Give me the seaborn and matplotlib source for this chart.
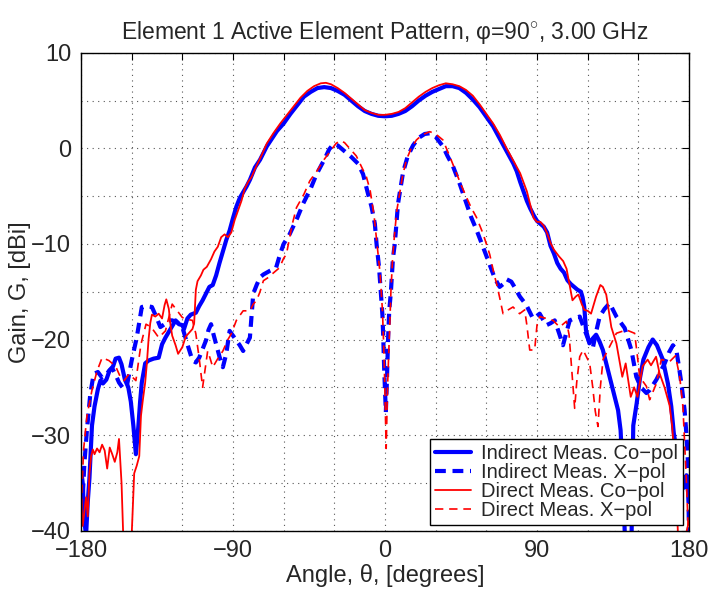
import numpy as np
import pandas as pd
import matplotlib
matplotlib.use("Agg")
import matplotlib.pyplot as plt
import seaborn as sns

# ---------------- data ----------------
ind_co_x = [-180, -179, -178, -177, -176, -175, -173.5, -172, -170, -168.5, -167, -165, -163, -161,
            -159.5, -157.5, -156, -154, -152, -150.5, -149, -147.5, -146, -145, -144, -142, -140,
            -137, -134, -132, -130, -128, -126, -124, -122, -120, -119, -117, -115, -112, -110,
            -108, -106, -104, -102, -100, -98, -96, -94, -92, -90, -88, -86, -84, -82, -80, -77,
            -74, -72, -70, -67, -64, -60, -56, -52, -48, -44, -40, -36, -32, -28, -24, -20, -16,
            -12, -8, -4, 0, 4, 8, 12, 16, 20, 24, 28, 32, 36, 40, 44, 48, 52, 56, 60, 64, 68, 72,
            76, 78, 80, 82, 84, 86, 88, 90, 92, 94, 96, 98, 100, 102, 104, 106, 108, 110, 112,
            114, 116, 117, 118, 119, 121, 123, 125, 127, 129, 132, 135, 138, 139.5, 141, 142,
            146, 147, 149, 151, 153, 156, 158.5, 161, 164.5, 167.5, 169.5, 171, 173, 175, 177,
            178.5, 180]
ind_co_y = [-33.5, -35, -39, -40.5, -37, -34.5, -29, -27, -25.2, -24.3, -24.6, -24.2, -23.2, -22.8,
            -22.0, -21.9, -22.6, -24.2, -25, -26.5, -29, -32.0, -29, -26.5, -24.5, -22.5, -22.2,
            -22.0, -21.9, -20.5, -19.8, -19.2, -18.6, -18.0, -18.4, -18.5, -18.9, -17.8, -17.4,
            -17.2, -16.5, -15.9, -15.2, -14.5, -14.3, -13.3, -12.0, -10.8, -9.6, -8.6, -7.3, -6.1,
            -5.2, -4.6, -4.0, -3.3, -2.0, -1.2, -0.5, 0.2, 1.0, 1.8, 2.6, 3.6, 4.5, 5.4, 5.9, 6.3,
            6.4, 6.3, 6.0, 5.6, 5.0, 4.4, 3.9, 3.6, 3.4, 3.35, 3.4, 3.6, 3.9, 4.4, 5.0, 5.5, 5.9,
            6.2, 6.5, 6.5, 6.3, 5.8, 5.1, 4.3, 3.3, 2.3, 1.0, -0.3, -1.6, -2.4, -3.5, -4.5, -5.5,
            -6.3, -7.0, -7.6, -7.9, -8.2, -8.8, -10.2, -11.0, -12.0, -12.6, -13.0, -13.8, -14.2,
            -14.5, -14.8, -15.0, -15.6, -16.6, -19.0, -20.4, -19.9, -19.5, -20.2, -21.1, -23.2,
            -25.3, -27.4, -29.5, -35, -40.5, -40.5, -29.0, -26.7, -24.0, -22.1, -20.8, -20.0,
            -20.6, -22.1, -24.6, -27.0, -29.8, -32, -35, -35.5, -34.2, -37]

ind_x_x = [-180, -179, -178, -176.5, -174.5, -172.5, -170, -167.5, -165.5, -163.5, -161.5, -159.5,
           -157.5, -155.5, -153, -150, -147, -144, -141, -138, -135.5, -133, -130.5, -128, -126,
           -123, -120, -117, -114, -112, -110, -108, -106, -104.5, -103, -101.5, -100, -98, -96,
           -94, -92, -90, -88, -86, -84, -82, -80, -79, -78, -76, -74, -72, -70, -68, -64.5, -62,
           -60, -56.5, -52, -48.5, -44, -40.5, -36, -33, -30.5, -28, -24, -20, -16, -13, -10, -8,
           -6, -5, -3.5, -2.5, -1.5, -1, -0.5, 0.5, 1.2, 1.8, 2.5, 3.5, 4.7, 5.8, 7.7, 10.7, 13.5,
           16.6, 20, 23.5, 26.5, 30, 34.3, 37, 40.3, 44.2, 48.2, 51, 54.1, 58, 62, 65, 67.9, 70,
           72, 74.8, 77, 79.8, 83.7, 87.6, 89.5, 91.6, 93.5, 95.6, 98, 100.5, 103, 105.4, 107.5,
           109.4, 112, 115.3, 118.2, 121, 123.2, 125, 127.1, 130, 133, 137, 141.9, 145.9, 148.8,
           151.5, 154.8, 156.7, 160.7, 163, 165.6, 168, 170.5, 172.5, 174, 175.5, 177.4, 178.5,
           179.4, 180]
ind_x_y = [-38, -36.5, -33, -29.5, -25.7, -23.6, -23.4, -24.0, -23.8, -23.3, -23.0, -23.7, -24.5,
           -25.0, -25.0, -22.2, -19.8, -16.6, -16.5, -16.6, -17.6, -18.7, -18.4, -18.0, -18.0,
           -18.2, -18.7, -20.5, -22.2, -22.4, -21.9, -21.0, -20.1, -19.0, -18.4, -19.5, -20.5,
           -21.8, -22.9, -21.5, -19.1, -19.6, -20.1, -20.6, -21.2, -20.5, -19.8, -17.5, -15.2,
           -14.3, -13.5, -13.2, -13.0, -12.8, -12.5, -11.0, -10.0, -9.0, -7.3, -5.8, -4.2, -2.7,
           -1.2, -0.1, 0.45, 0.3, -0.3, -0.9, -1.6, -2.7, -4.8, -6.1, -7.9, -10.0, -12.5, -15.0,
           -17.5, -20, -23, -27.6, -24, -20, -17, -15, -11.5, -10, -5.8, -2.5, -0.8, 0.3, 1.1,
           1.5, 1.57, 1.2, 0.2, -0.8, -1.9, -3.7, -5.75, -7.2, -8.5, -10.3, -12.2, -13.6, -14.5,
           -14.2, -13.7, -13.95, -14.6, -15.5, -16.4, -17.8, -17.6, -17.3, -17.9, -18.5, -18.3,
           -18.0, -19.3, -20.6, -19.2, -18.0, -17.8, -17.6, -19.0, -20.3, -20.75, -19.2, -17.6,
           -16.8, -16.2, -17.6, -18.8, -21.1, -23.9, -25.0, -25.6, -25.3, -24.2, -23.4, -22.5,
           -21.4, -20.6, -21.1, -22.8, -24.6, -27.4, -30, -33, -40.5]

dir_co_x = [-180, -179, -178, -177, -176, -175, -174, -173, -172, -170.5, -169, -167.5, -166,
            -164.5, -163, -161.5, -160, -158.5, -157.5, -156, -155, -150, -148.5, -147, -145.5,
            -144.5, -143.5, -142, -141, -140, -139, -138, -136, -134, -132, -130.5, -129.5, -128,
            -127, -126, -124, -122.5, -120, -118, -116, -114, -113, -112, -111, -109, -107.5,
            -105.5, -103, -101, -99, -97, -95, -93, -91, -89, -87, -85, -83, -81, -79, -76, -73,
            -70, -66, -62, -58, -54, -50, -46, -42, -38, -35, -32, -28, -24, -20, -16, -12, -8,
            -4, 0, 4, 8, 12, 16, 20, 24, 28, 32, 36, 40, 44, 48, 52, 56, 60, 64, 68, 72, 76, 80,
            84, 86, 88, 90, 92, 94, 96, 98, 100, 103, 105.5, 107.5, 109, 111, 113, 114.5, 116.5,
            118, 120, 122, 125, 127.5, 129, 131, 134, 137, 140.5, 142.5, 145.5, 147.5, 149.5,
            152.5, 155.5, 157.5, 160.5, 162.5, 165.5, 168.5, 170, 172, 173.5, 178, 180]
dir_co_y = [-36, -39.5, -38, -36.5, -38.5, -34, -32.2, -31.5, -32.0, -31.4, -31.8, -31.0, -31.6,
            -33.5, -31.3, -32, -32.8, -31.8, -30.4, -35, -40.5, -40.5, -34, -33.2, -32.2, -28,
            -26.5, -24.5, -22.5, -20.0, -18.3, -17.4, -17.6, -17.3, -17.8, -16.4, -15.8, -16.8,
            -18.5, -19.6, -20.6, -21.5, -20.8, -19.7, -19.3, -18.9, -18.3, -14.8, -13.9, -13.3,
            -12.7, -12.4, -11.6, -10.8, -10.3, -9.3, -9.0, -9.3, -8.8, -7.5, -6.5, -5.5, -4.2,
            -3.5, -3.0, -1.8, -0.7, 0.5, 1.6, 2.6, 3.5, 4.4, 5.3, 6.0, 6.5, 6.8, 6.85, 6.7, 6.3,
            5.8, 5.2, 4.6, 4.0, 3.7, 3.5, 3.5, 3.6, 3.8, 4.2, 4.8, 5.4, 5.9, 6.3, 6.6, 6.8, 6.7,
            6.5, 6.1, 5.5, 4.6, 3.6, 2.6, 1.4, 0.0, -1.3, -2.6, -4.5, -5.9, -7.3, -7.7, -7.7, -8.1,
            -8.9, -9.9, -10.6, -11.3, -11.8, -12.6, -14.0, -15.9, -15.5, -15.3, -16.3, -16.9,
            -17.0, -17.3, -15.5, -14.3, -14.5, -15.3, -18.7, -20.4, -23.9, -22.5, -26.0, -25.0,
            -26.0, -22.8, -22.1, -22.7, -21.8, -23.5, -25.0, -26.9, -29, -34, -40.5, -40.5, -39]

dir_x_x = [-180, -179.5, -178.5, -176.5, -173.5, -170.5, -167.5, -163.5, -159.5, -157, -154.5,
           -151.5, -147.5, -144.5, -141.5, -138.5, -136, -134, -130, -126, -123, -120, -117, -114,
           -112, -110, -108, -105, -103.5, -102, -99, -96, -93, -91, -88, -86, -84, -82, -80, -78,
           -76, -74, -72, -69, -66.5, -62.5, -60, -58.4, -55, -52.4, -48, -44.5, -40, -36.6, -32,
           -29, -26.7, -24, -20, -17, -14.8, -11, -8.8, -6.5, -4.9, -2.9, -1.5, -0.5, 0, 0.7, 1.5,
           2.5, 3.5, 4.5, 5.7, 7, 8.7, 10.5, 12.7, 15.5, 18.6, 22, 26.5, 30, 34.3, 38, 42.3, 45,
           48.2, 51, 54.1, 58, 62, 64.9, 66, 68, 69.9, 72, 75.8, 79.7, 82.7, 84, 85.7, 88.6, 90,
           91.6, 95.6, 99.5, 103.4, 107.4, 109, 110.4, 111.5, 112.3, 113.5, 115.3, 117.3, 121.2,
           123, 124.5, 126.1, 127.5, 129.1, 133, 137, 142.9, 147.8, 149.3, 150.8, 154.8, 156.7,
           160.7, 163.6, 168.6, 172, 174.5, 176.4, 177.4, 178.5, 179.5, 180]
dir_x_y = [-40.5, -36, -31.6, -28, -25.3, -23.3, -21.9, -22.2, -22.8, -23.8, -24.3, -23.6, -24.3,
           -20.5, -18.4, -18.7, -19.3, -19.8, -19.1, -16.3, -17.0, -17.7, -17.9, -18.0, -19.4, -22,
           -25.0, -21.2, -22.0, -22.9, -22.0, -21.2, -20.0, -19.4, -18.0, -17.5, -17.0, -17.0,
           -17.0, -16.3, -15.9, -15.0, -13.85, -13.5, -13.1, -12.5, -11.5, -11.1, -8.0, -6.2,
           -4.8, -3.4, -2.3, -1.3, -0.2, 0.5, 0.8, 0.6, -0.2, -0.8, -1.6, -3.0, -4.4, -7, -9.7,
           -13.1, -17, -22, -26, -31.4, -25, -20, -15, -11.5, -8.9, -6.5, -4.7, -2.8, -1.2, 0.0,
           0.87, 1.4, 1.74, 1.5, 0.87, -0.7, -2.6, -3.8, -5.1, -6.2, -7.2, -8.9, -11.1, -13.4,
           -14.1, -15.7, -17.3, -17.0, -16.6, -17.3, -16.9, -18.5, -21.1, -21.1, -18.5, -17.6,
           -17.8, -18.0, -18.7, -18.1, -19.5, -22.8, -25.5, -27.2, -24.5, -21.8, -21.1, -22.5,
           -25, -27.5, -29.1, -25, -22.1, -20.75, -19.35, -19.0, -19.35, -21.5, -23.9, -24.9,
           -26.3, -24.6, -22.1, -22.3, -21.7, -23.9, -27.0, -30.9, -35, -39.6, -40.5]

series_labels = ["Indirect Meas. Co\u2212pol", "Indirect Meas. X\u2212pol",
                 "Direct Meas. Co\u2212pol", "Direct Meas. X\u2212pol"]
x_ticks = [-180, -150, -120, -90, -60, -30, 0, 30, 60, 90, 120, 150, 180]
x_labels = ["\u2212180", "", "", "\u221290", "", "", "0", "", "", "90", "", "", "180"]
y_ticks = [-40, -35, -30, -25, -20, -15, -10, -5, 0, 5, 10]
y_labels = ["\u221240", "", "\u221230", "", "\u221220", "", "\u221210", "", "0", "", "10"]

# ---------------- style ----------------
sns.set_theme(style="white")
plt.rcParams["font.family"] = ["Liberation Sans", "DejaVu Sans"]
plt.rcParams["mathtext.fontset"] = "custom"
plt.rcParams["mathtext.rm"] = "Liberation Sans"

fig = plt.figure(figsize=(7.1, 5.93), dpi=100)
ax = fig.add_axes([81 / 710, 1 - 530.7 / 593, 608 / 710, 478 / 593])

styles = [
    dict(color="#0000ff", linewidth=3.0, linestyle="-"),
    dict(color="#0000ff", linewidth=3.0, linestyle=(0, (2.6, 1.6))),
    dict(color="#ff0000", linewidth=1.3, linestyle="-"),
    dict(color="#ff0000", linewidth=1.2, linestyle=(0, (5, 3.5))),
]
data = [(ind_co_x, ind_co_y), (ind_x_x, ind_x_y), (dir_co_x, dir_co_y), (dir_x_x, dir_x_y)]
for (xs, ys), lab, st in zip(data, series_labels, styles):
    df = pd.DataFrame({"x": xs, "y": ys})
    sns.lineplot(data=df, x="x", y="y", ax=ax, label=lab, sort=False,
                 estimator=None, **st)

ax.set_xlim(-180, 180)
ax.set_ylim(-40, 10)
ax.set_xticks(x_ticks)
ax.set_xticklabels(x_labels)
ax.set_yticks(y_ticks)
ax.set_yticklabels(y_labels)
ax.tick_params(direction="in", length=5, width=0.8, color="black",
               top=True, right=True, labelsize=17, pad=7)
ax.grid(True, linestyle=(0, (1, 4)), color="#555555", linewidth=0.8)
for sp in ax.spines.values():
    sp.set_color("black")
    sp.set_linewidth(1.0)

ax.set_xlabel("Angle, \u03b8, [degrees]", fontsize=17, labelpad=1)
ax.set_ylabel("Gain, G, [dBi]", fontsize=17, labelpad=0)
ax.set_title("Element 1 Active Element Pattern, \u03c6=90$^{\\circ}$, 3.00 GHz",
             fontsize=16.5, pad=10)

leg = ax.legend(loc="lower right", bbox_to_anchor=(0.99, 0.012), borderaxespad=0,
                fontsize=14.5, frameon=True, fancybox=False, framealpha=1,
                edgecolor="black", labelspacing=0.0, handlelength=1.8,
                handletextpad=0.5, borderpad=0.25)
leg.get_frame().set_linewidth(1.0)

fig.savefig("out.png", dpi=100)
